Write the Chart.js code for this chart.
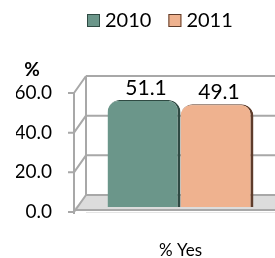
<!DOCTYPE html>
<html>
<head>
<meta charset="utf-8">
<script src="https://cdn.jsdelivr.net/npm/chart.js@4.4.1/dist/chart.umd.min.js"></script>
<style>
html,body{margin:0;padding:0;background:#fff;}
#wrap{width:275px;height:258px;position:relative;}
</style>
</head>
<body>
<div id="wrap"><canvas id="c" width="275" height="258"></canvas></div>
<script>
const categories = ['% Yes'];
const seriesNames = ['2010', '2011'];
const values2010 = [51.1];
const values2011 = [49.1];
const yTickValues = [0, 20, 40, 60];
const yAxisTitle = '%';

const FONT = 'Lato, "Liberation Sans", sans-serif';
const colors = ['#6b968a', '#efb28f'];
const edgeColors = ['#2f4a43', '#5e3c2b'];
const DX = 12, DY = 17;

const wallPlugin = {
  id: 'walls',
  beforeDatasetsDraw(chart) {
    const ctx = chart.ctx, y = chart.scales.y, a = chart.chartArea;
    const fx = a.left - DX;
    ctx.save();
    const y0 = y.getPixelForValue(0);
    ctx.fillStyle = '#dcdcdc';
    ctx.beginPath();
    ctx.moveTo(fx, y0 - 3); ctx.lineTo(a.left, y0 - DY); ctx.lineTo(a.right, y0 - DY); ctx.lineTo(a.right, y0 - 3);
    ctx.closePath(); ctx.fill();
    ctx.strokeStyle = '#a8a8a8';
    ctx.lineWidth = 2;
    yTickValues.forEach(v => {
      const p = y.getPixelForValue(v);
      ctx.beginPath();
      ctx.moveTo(a.left, p - DY); ctx.lineTo(a.right, p - DY);
      ctx.moveTo(fx, p); ctx.lineTo(a.left, p - DY);
      ctx.moveTo(fx - 6, p); ctx.lineTo(fx, p);
      ctx.stroke();
    });
    const pTop = y.getPixelForValue(yTickValues[yTickValues.length - 1]);
    ctx.beginPath();
    ctx.moveTo(a.left, pTop - DY); ctx.lineTo(a.left, y0 - DY);
    ctx.stroke();
    ctx.beginPath();
    ctx.moveTo(fx, pTop); ctx.lineTo(fx, y0 + 2);
    ctx.stroke();
    ctx.beginPath();
    ctx.moveTo(fx, y0 - 2); ctx.lineTo(a.right, y0 - 2);
    ctx.stroke();
    ctx.restore();
  },
  afterDatasetsDraw(chart) {
    const ctx = chart.ctx;
    ctx.save();
    ctx.fillStyle = '#000';
    ctx.font = '21px ' + FONT;
    ctx.textAlign = 'center';
    ctx.textBaseline = 'middle';
    chart.data.datasets.forEach((ds, i) => {
      const meta = chart.getDatasetMeta(i);
      meta.data.forEach((bar, j) => {
        ctx.fillText(ds.data[j].toFixed(1), bar.x + 2, bar.y - 12);
      });
    });
    ctx.font = 'bold 19px ' + FONT;
    ctx.fillText(yAxisTitle, 32, 70);
    ctx.font = '20px ' + FONT;
    ctx.textAlign = 'left';
    let x = 87;
    chart.data.datasets.forEach((ds, i) => {
      ctx.fillStyle = ds.backgroundColor;
      ctx.fillRect(x, 14, 13, 13);
      ctx.strokeStyle = edgeColors[i];
      ctx.lineWidth = 1;
      ctx.strokeRect(x + 0.5, 14.5, 12, 12);
      ctx.fillStyle = '#000';
      ctx.fillText(ds.label, x + 18, 21);
      x += 18 + ctx.measureText(ds.label).width + 17;
    });
    ctx.restore();
  }
};

new Chart(document.getElementById('c'), {
  type: 'bar',
  data: {
    labels: categories,
    datasets: [
      { label: seriesNames[0], data: values2010, backgroundColor: colors[0], borderColor: edgeColors[0],
        borderWidth: {left: 0, right: 3, top: 1, bottom: 0}, yAxisID: 'y2' },
      { label: seriesNames[1], data: values2011, backgroundColor: colors[1], borderColor: edgeColors[1],
        borderWidth: {left: 0, right: 3, top: 1, bottom: 0}, yAxisID: 'y2' }
    ]
  },
  options: {
    responsive: false,
    animation: false,
    events: [],
    layout: { padding: { top: 93, left: 16, right: 0, bottom: 0 } },
    datasets: { bar: { categoryPercentage: 0.772, barPercentage: 1,
      borderRadius: { topLeft: 12, topRight: 12, bottomLeft: 0, bottomRight: 0 }, borderSkipped: 'bottom' } },
    plugins: { legend: { display: false }, tooltip: { enabled: false } },
    scales: {
      x: {
        afterFit: s => { s.height = 46; },
        grid: { display: false, drawTicks: false },
        ticks: { color: '#000', font: { family: FONT, size: 17 }, padding: 28 }
      },
      y: {
        min: 0, max: 60,
        afterBuildTicks: s => { s.ticks = yTickValues.map(v => ({ value: v })); },
        afterFit: s => { s.width = 70; },
        grid: { display: false, drawTicks: false },
        border: { display: false },
        ticks: { color: '#000', font: { family: FONT, size: 19 }, padding: 34,
          callback: v => Number(v).toFixed(1) }
      },
      y2: {
        display: false, min: -2.4, max: 54.5
      }
    }
  },
  plugins: [wallPlugin]
});
</script>
</body>
</html>
